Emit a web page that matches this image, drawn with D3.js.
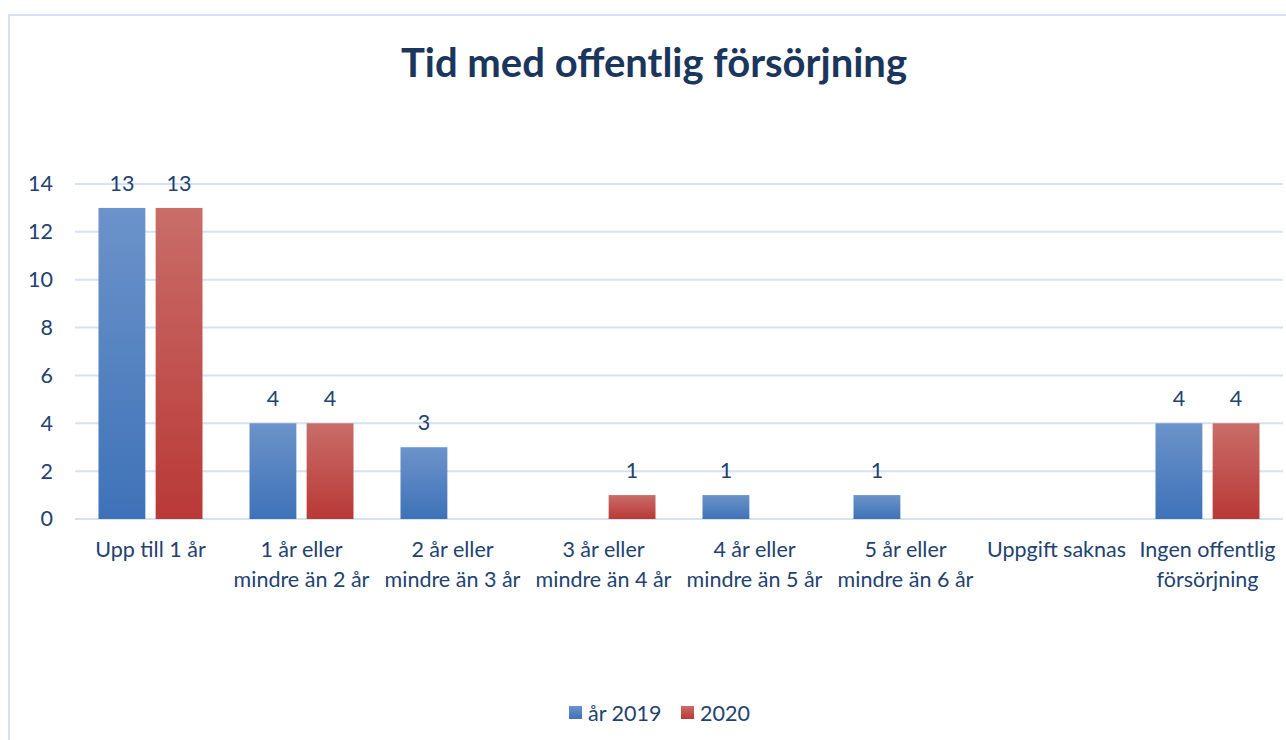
<!DOCTYPE html>
<html lang="sv">
<head>
<meta charset="UTF-8">
<title>Tid med offentlig försörjning</title>
<script src="https://d3js.org/d3.v7.min.js"></script>
<style>
    body { margin: 0; background: #fff; }
    text { font-family: Lato, "Open Sans", sans-serif; fill: #23426f; }
</style>
</head>
<body>
<svg id="chart"></svg>
<script>
// data
const categories = [
    ["Upp till 1 år"],
    ["1 år eller", "mindre än 2 år"],
    ["2 år eller", "mindre än 3 år"],
    ["3 år eller", "mindre än 4 år"],
    ["4 år eller", "mindre än 5 år"],
    ["5 år eller", "mindre än 6 år"],
    ["Uppgift saknas"],
    ["Ingen offentlig", "försörjning"]
];
const seriesNames = ["år 2019", "2020"];
const values2019 = [13, 4, 3, 0, 1, 1, 0, 4];
const values2020 = [13, 4, 0, 1, 0, 0, 0, 4];
const yTicks = [0, 2, 4, 6, 8, 10, 12, 14];

const W = 1286, H = 740;
const margin = { top: 184, right: 3, bottom: 221, left: 75 };
const width = W - margin.left - margin.right;
const height = H - margin.top - margin.bottom;
const fs = "21.5px";

const svg = d3.select("#chart").attr("width", W).attr("height", H);

// gradients for bars
const defs = svg.append("defs");
const gradColors = [["#6c93ca", "#3e72b8"], ["#c96d69", "#b93936"]];
gradColors.forEach((c, i) => {
    const g = defs.append("linearGradient").attr("id", "grad" + i)
        .attr("x1", 0).attr("y1", 0).attr("x2", 0).attr("y2", 1);
    g.append("stop").attr("offset", "0%").attr("stop-color", c[0]);
    g.append("stop").attr("offset", "100%").attr("stop-color", c[1]);
});

// chart area frame
svg.append("rect")
    .attr("x", 9).attr("y", 15)
    .attr("width", W + 20).attr("height", H + 20)
    .attr("fill", "none").attr("stroke", "#d6e1f2").attr("stroke-width", 2);

// title
svg.append("text")
    .attr("x", 654).attr("y", 77)
    .attr("text-anchor", "middle")
    .style("font-size", "40px").style("font-weight", "bold")
    .style("fill", "#1b365d")
    .text("Tid med offentlig försörjning");

const g = svg.append("g").attr("transform", `translate(${margin.left},${margin.top})`);

const x0 = d3.scaleBand().domain(d3.range(categories.length)).range([0, width]);
const x1 = d3.scaleBand().domain([0, 1]).range([23.5, x0.bandwidth() - 23.5]).paddingInner(0.18);
const y = d3.scaleLinear().domain([0, 14]).range([height, 0]);

// grid lines
g.selectAll(".grid").data(yTicks).enter().append("line")
    .attr("x1", 0).attr("x2", width)
    .attr("y1", d => y(d)).attr("y2", d => y(d))
    .attr("stroke", "#d6e1f2").attr("stroke-width", 2);

// y axis labels
const yAxis = g.append("g").call(d3.axisLeft(y).tickValues(yTicks).tickSize(0).tickPadding(22));
yAxis.select(".domain").remove();
yAxis.selectAll("text").style("font-size", fs).style("fill", "#23426f")
    .style("font-family", "Lato, sans-serif");

// bars + value labels
const series = [values2019, values2020];
series.forEach((vals, s) => {
    const pts = vals.map((v, i) => ({ i: i, v: v }));
    g.selectAll(".bar" + s).data(pts).enter().append("rect")
        .attr("x", d => x0(d.i) + x1(s))
        .attr("y", d => y(d.v))
        .attr("width", x1.bandwidth())
        .attr("height", d => height - y(d.v))
        .attr("fill", `url(#grad${s})`);
    g.selectAll(".lab" + s).data(pts.filter(d => d.v > 0)).enter().append("text")
        .attr("x", d => x0(d.i) + x1(s) + x1.bandwidth() / 2)
        .attr("y", d => y(d.v) - 17)
        .attr("text-anchor", "middle")
        .style("font-size", fs)
        .text(d => d.v);
});

// category labels
categories.forEach((lines, i) => {
    const t = g.append("text")
        .attr("x", x0(i) + x0.bandwidth() / 2)
        .attr("y", height + 38)
        .attr("text-anchor", "middle")
        .style("font-size", fs);
    lines.forEach((l, k) => {
        t.append("tspan").attr("x", x0(i) + x0.bandwidth() / 2)
            .attr("dy", k === 0 ? 0 : 30).text(l);
    });
});

// legend
const legend = svg.append("g");
const legX = [569, 681];
seriesNames.forEach((n, s) => {
    legend.append("rect").attr("x", legX[s]).attr("y", 706)
        .attr("width", 13).attr("height", 13).attr("fill", `url(#grad${s})`);
    legend.append("text").attr("x", legX[s] + 19).attr("y", 721)
        .style("font-size", fs).text(n);
});
</script>
</body>
</html>
